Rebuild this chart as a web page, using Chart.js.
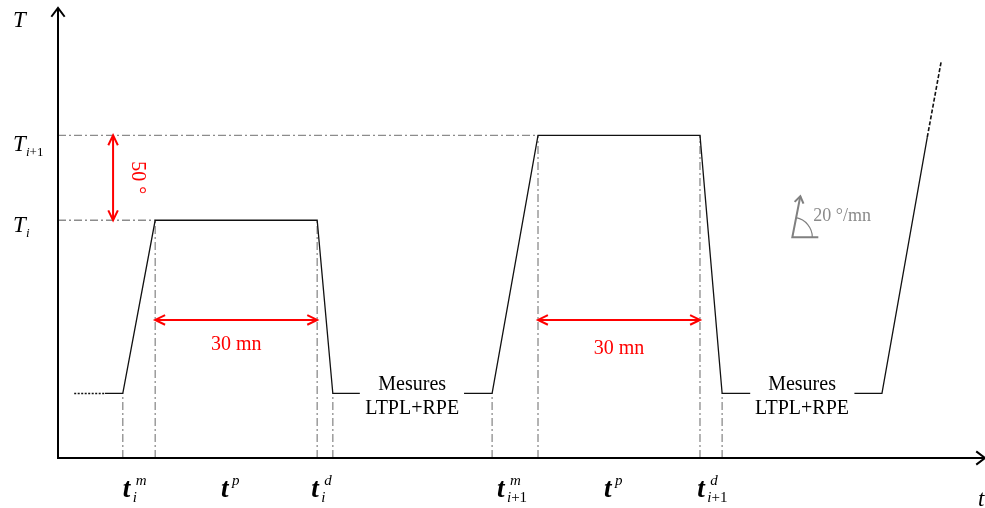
<!DOCTYPE html>
<html>
<head>
<meta charset="utf-8">
<script src="https://cdn.jsdelivr.net/npm/chart.js@4.4.0/dist/chart.umd.min.js"></script>
<style>
  body { margin: 0; background: #fff; }
  #wrap { width: 985px; height: 508px; }
</style>
</head>
<body>
<div id="wrap"><canvas id="cycle" width="985" height="508"></canvas></div>
<script>
// temps en mn, températures en degrés (échelle arbitraire, Ti+1 - Ti = 50)
const profileTime = [8.7, 12.0, 18.0, 48.0, 50.9, 55.9, null, 75.2, 80.4, 88.9, 118.9, 123.0, 128.2, null, 147.5, 152.6, 161.0];
const profileTemp = [38, 38, 140, 140, 38, 38, null, 38, 38, 190, 190, 38, 38, null, 38, 38, 189];
const startTime = [3.0, 8.7];
const startTemp = [38, 38];
const endTime = [161.0, 163.6];
const endTemp = [189, 234];

// repères verticaux (t_i^m, début palier, fin palier, t_i^d ...)
const guideTime = [12.0, 18.0, 48.0, 50.9, 80.4, 88.9, 118.9, 123.0];
const guideTemp = [38, 140, 140, 38, 38, 190, 190, 38];
// niveaux Ti+1, Ti
const levelTemp = [190, 140];
const levelEnd = [88.9, 18.0];
const levelSub = ['i+1', 'i'];

// flèches rouges
const plateauStart = [18.0, 88.9];
const plateauEnd = [48.0, 118.9];
const plateauArrowTemp = 81.3;
const plateauLabel = '30 mn';
const plateauLabelTemp = [63.6, 61.2];
const stepTime = 10.2;
const stepLabel = '50 °';

// graduations de l'axe des temps
const tickTime = [12.0, 30.2, 46.9, 81.3, 101.1, 118.4];
const tickSup = ['m', 'p', 'd', 'm', 'p', 'd'];
const tickSub = ['i', '', 'i', 'i+1', '', 'i+1'];

const measureTime = [65.6, 137.8];
const measureLines = ['Mesures', 'LTPL+RPE'];
const rateLabel = '20 °/mn';
const rateAnchor = [136.0, 130.0];

const SERIF = '"Liberation Serif", "Times New Roman", serif';

function pts(xs, ys) {
  return xs.map((x, i) => ({ x: x, y: ys[i] }));
}

function segments(xs, y0, y1s) {
  const out = [];
  xs.forEach((x, i) => {
    out.push({ x: x, y: y0 }, { x: x, y: y1s[i] }, { x: null, y: null });
  });
  return out;
}

const datasets = [
  { label: 'profil', data: pts(profileTime, profileTemp), borderColor: '#111', borderWidth: 1.3 },
  { label: 'début', data: pts(startTime, startTemp), borderColor: '#111', borderWidth: 1.6, borderDash: [2, 1.5] },
  { label: 'suite', data: pts(endTime, endTemp), borderColor: '#111', borderWidth: 1.6, borderDash: [4, 2] },
  { label: 'repères', data: segments(guideTime, 0, guideTemp), borderColor: '#8c8c8c', borderWidth: 1.3, borderDash: [8, 3, 2, 3] },
  { label: 'niveaux', data: levelTemp.flatMap((T, i) => [{ x: 0, y: T }, { x: levelEnd[i], y: T }, { x: null, y: null }]),
    borderColor: '#8c8c8c', borderWidth: 1.3, borderDash: [8, 3, 2, 3] },
  { label: 'écart', data: [{ x: stepTime, y: levelTemp[0] }, { x: stepTime, y: levelTemp[1] }],
    borderColor: '#ff0000', borderWidth: 2, arrowHeads: true }
];
plateauStart.forEach((t, i) => {
  datasets.push({ label: 'palier ' + i, data: [{ x: t, y: plateauArrowTemp }, { x: plateauEnd[i], y: plateauArrowTemp }],
    borderColor: '#ff0000', borderWidth: 2, arrowHeads: true });
});
datasets.forEach(d => { d.showLine = true; d.pointRadius = 0; d.tension = 0; });

function chevron(ctx, x, y, ang, len, half) {
  ctx.beginPath();
  ctx.moveTo(x - len * Math.cos(ang - half), y - len * Math.sin(ang - half));
  ctx.lineTo(x, y);
  ctx.lineTo(x - len * Math.cos(ang + half), y - len * Math.sin(ang + half));
  ctx.stroke();
}

// indice : lettres en italique, chiffres et signes en romain
function drawSub(ctx, x, y, s, size) {
  for (const ch of s) {
    ctx.font = (/[a-z]/.test(ch) ? 'italic ' : '') + size + 'px ' + SERIF;
    ctx.fillText(ch, x, y);
    x += ctx.measureText(ch).width;
  }
}

const decor = {
  id: 'decor',
  afterDatasetsDraw(chart) {
    const ctx = chart.ctx;
    const xs = chart.scales.x, ys = chart.scales.y;
    const a = chart.chartArea;
    ctx.save();
    ctx.textBaseline = 'alphabetic';

    // flèches rouges
    chart.data.datasets.forEach((d, i) => {
      if (!d.arrowHeads) return;
      const p = chart.getDatasetMeta(i).data;
      const p0 = p[0], p1 = p[p.length - 1];
      ctx.strokeStyle = d.borderColor;
      ctx.lineWidth = 2;
      ctx.lineJoin = 'miter';
      chevron(ctx, p1.x, p1.y, Math.atan2(p1.y - p0.y, p1.x - p0.x), 11, 0.45);
      chevron(ctx, p0.x, p0.y, Math.atan2(p0.y - p1.y, p0.x - p1.x), 11, 0.45);
    });

    // axes
    ctx.strokeStyle = '#000';
    ctx.lineWidth = 2;
    ctx.beginPath();
    ctx.moveTo(a.left, a.top);
    ctx.lineTo(a.left, a.bottom);
    ctx.lineTo(a.right + 1, a.bottom);
    ctx.stroke();
    chevron(ctx, a.left, a.top, -Math.PI / 2, 11, 0.65);
    chevron(ctx, a.right + 1, a.bottom, 0, 11, 0.65);

    // titres des axes
    ctx.fillStyle = '#000';
    ctx.font = 'italic 23px ' + SERIF;
    ctx.textAlign = 'left';
    ctx.fillText('T', 13, 27);
    ctx.fillText('t', 978, 506);

    // Ti+1, Ti
    const levelOff = [16, 12];
    levelTemp.forEach((T, i) => {
      const y = ys.getPixelForValue(T) + levelOff[i];
      ctx.font = 'italic 23px ' + SERIF;
      ctx.fillText('T', 13, y);
      drawSub(ctx, 26, y + 5, levelSub[i], 13);
    });

    // t_i^m, t^p, t_i^d ...
    tickTime.forEach((t, i) => {
      const x = xs.getPixelForValue(t);
      const y = 497;
      ctx.font = 'italic bold 27px ' + SERIF;
      ctx.fillText('t', x, y);
      ctx.font = 'italic 15px ' + SERIF;
      ctx.fillText(tickSup[i], x + (tickSub[i] ? 13 : 11), y - 12);
      if (tickSub[i]) drawSub(ctx, x + 10, y + 5, tickSub[i], 15);
    });

    // Mesures LTPL+RPE
    ctx.font = '20px ' + SERIF;
    ctx.textAlign = 'center';
    measureTime.forEach(t => {
      const x = xs.getPixelForValue(t);
      const y = ys.getPixelForValue(38);
      ctx.fillText(measureLines[0], x, y - 3);
      ctx.fillText(measureLines[1], x, y + 21);
    });

    // 30 mn
    ctx.fillStyle = '#ff0000';
    plateauStart.forEach((t, i) => {
      const x = xs.getPixelForValue((t + plateauEnd[i]) / 2);
      ctx.fillText(plateauLabel, x, ys.getPixelForValue(plateauLabelTemp[i]));
    });

    // 50 °
    ctx.save();
    ctx.translate(xs.getPixelForValue(stepTime) + 24, ys.getPixelForValue((levelTemp[0] + levelTemp[1]) / 2));
    ctx.rotate(Math.PI / 2);
    ctx.textBaseline = 'middle';
    ctx.fillText(stepLabel, 0, 0);
    ctx.restore();

    // pente 20 °/mn
    const bx = xs.getPixelForValue(rateAnchor[0]), by = ys.getPixelForValue(rateAnchor[1]);
    ctx.strokeStyle = '#808080';
    ctx.fillStyle = '#8a8a8a';
    ctx.lineWidth = 2;
    ctx.beginPath();
    ctx.moveTo(bx + 26, by);
    ctx.lineTo(bx, by);
    ctx.lineTo(bx + 8, by - 41);
    ctx.stroke();
    chevron(ctx, bx + 8, by - 41, Math.atan2(-41, 8), 8, 0.6);
    ctx.lineWidth = 1.2;
    ctx.beginPath();
    ctx.arc(bx, by, 20, Math.atan2(-41, 8), 0);
    ctx.stroke();
    ctx.font = '18px ' + SERIF;
    ctx.textAlign = 'left';
    ctx.fillText(rateLabel, bx + 21, by - 16);

    ctx.restore();
  }
};

new Chart(document.getElementById('cycle'), {
  type: 'scatter',
  data: { datasets: datasets },
  options: {
    responsive: false,
    animation: false,
    layout: { padding: { left: 58, right: 1, top: 8, bottom: 50 } },
    scales: {
      x: { type: 'linear', min: 0, max: 171.5, display: false },
      y: { type: 'linear', min: 0, max: 265, display: false }
    },
    plugins: { legend: { display: false }, tooltip: { enabled: false } }
  },
  plugins: [decor]
});
</script>
</body>
</html>
